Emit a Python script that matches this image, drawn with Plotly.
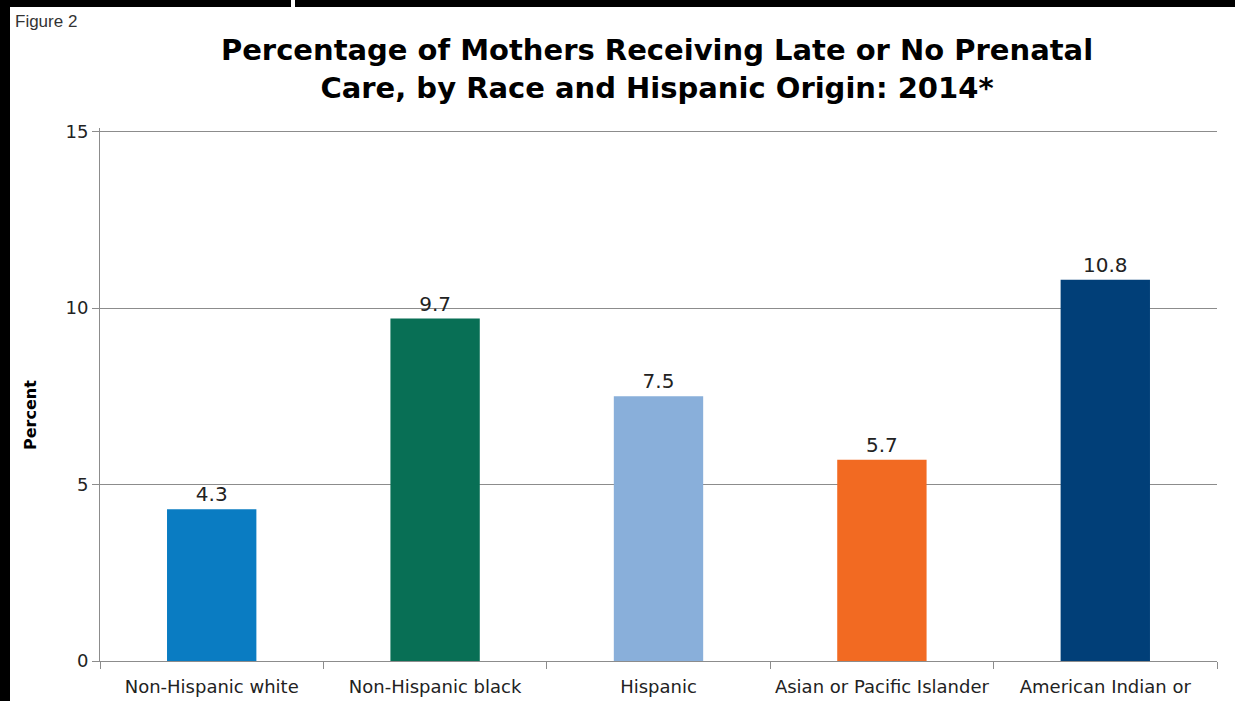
import plotly.graph_objects as go

categories = ["Non-Hispanic white", "Non-Hispanic black", "Hispanic",
              "Asian or Pacific Islander", "American Indian or<br>Alaska Native"]
values = [4.3, 9.7, 7.5, 5.7, 10.8]
colors = ["#0a7cc2", "#086f55", "#89afda", "#f26a22", "#013f78"]
y_ticks = [0, 5, 10, 15]

W, H = 1235, 701
L, R, T, B = 100, 18, 128, 40
pw = W - L - R
ph = H - T - B

def px(x):
    return (x - L) / pw

def py(y):
    return (H - B - y) / ph

fig = go.Figure(go.Bar(
    x=categories, y=values, marker_color=colors, marker_line_width=0,
    text=[f"{v:.1f}" for v in values], textposition="outside",
    textfont=dict(family="DejaVu Sans", size=20, color="#222"),
    cliponaxis=False, width=0.4,
))

shapes = [
    dict(type="rect", xref="paper", yref="paper", x0=px(-5), x1=px(10), y0=py(H + 5), y1=py(-5),
         fillcolor="black", line_width=0, layer="above"),
    dict(type="rect", xref="paper", yref="paper", x0=px(-5), x1=px(291), y0=py(7), y1=py(-5),
         fillcolor="black", line_width=0, layer="above"),
    dict(type="rect", xref="paper", yref="paper", x0=px(295), x1=px(W + 5), y0=py(7), y1=py(-5),
         fillcolor="black", line_width=0, layer="above"),
]

fig.update_layout(
    width=W, height=H,
    margin=dict(l=L, r=R, t=T, b=B),
    paper_bgcolor="white", plot_bgcolor="white",
    showlegend=False,
    title=dict(text="Percentage of Mothers Receiving Late or No Prenatal<br>Care, by Race and Hispanic Origin: 2014*",
               x=657 / W, xanchor="center", y=1 - 60 / H, yanchor="middle", yref="container",
               font=dict(family="DejaVu Sans", size=29, color="black", weight="bold")),
    shapes=shapes,
    annotations=[
        dict(text="Figure 2", xref="paper", yref="paper", x=px(13), y=py(22),
             xanchor="left", yanchor="middle", showarrow=False,
             font=dict(family="Liberation Sans", size=17, color="#333")),
        dict(text="<b>Percent</b>", xref="paper", yref="paper", x=px(30), y=py(415),
             xanchor="center", yanchor="middle", showarrow=False, textangle=-90,
             font=dict(family="DejaVu Sans", size=16, color="black")),
    ],
)

fig.update_xaxes(
    automargin=False, tickangle=0,
    showline=True, linecolor="#8c8c8c", linewidth=1,
    ticks="outside", tickson="boundaries", ticklen=7, tickcolor="#8c8c8c",
    ticklabelstandoff=9,
    tickfont=dict(family="DejaVu Sans", size=18, color="#222"),
    showgrid=False,
)
fig.update_yaxes(
    automargin=False,
    range=[0, 15.1], tickvals=y_ticks, ticks="outside", ticklen=7, tickcolor="#8c8c8c",
    showline=True, linecolor="#8c8c8c", linewidth=1,
    showgrid=True, gridcolor="#8c8c8c", gridwidth=1, zeroline=False,
    tickfont=dict(family="DejaVu Sans", size=18, color="#222"),
)

fig.write_html("out.html", config={"displayModeBar": False},
               post_script="document.body.style.margin='0';")
